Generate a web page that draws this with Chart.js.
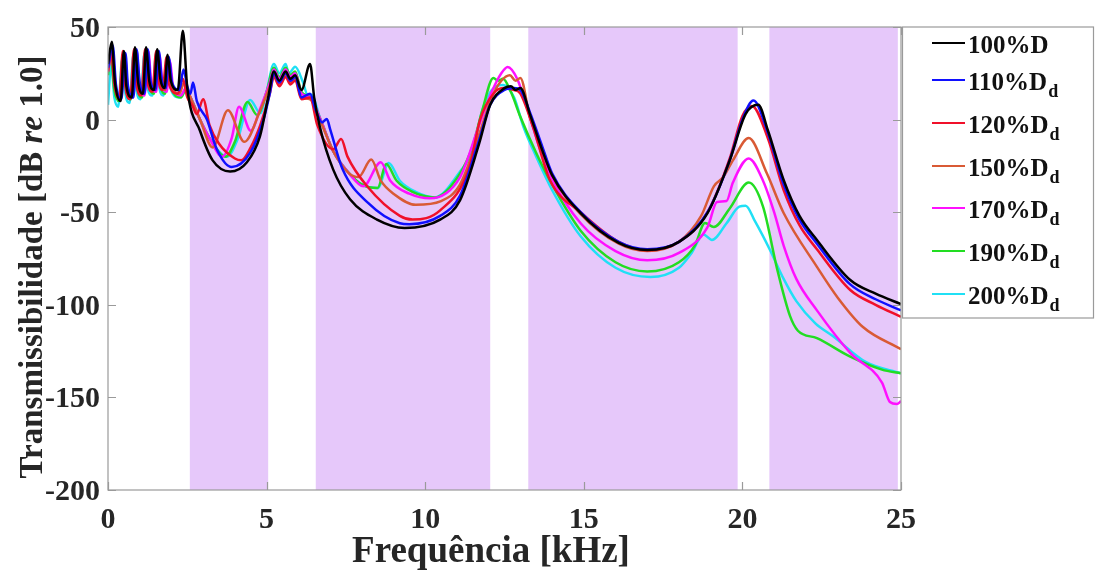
<!DOCTYPE html>
<html>
<head>
<meta charset="utf-8">
<script src="https://cdn.jsdelivr.net/npm/chart.js@4/dist/chart.umd.min.js"></script>
<style>
  html, body { margin: 0; padding: 0; background: #fff; }
  #wrap { width: 1095px; height: 570px; }
</style>
</head>
<body>
<div id="wrap"><canvas id="lineChart" width="1095" height="570"></canvas></div>
<script>
// frequencia em kHz, transmissibilidade em dB
const xTicks = [0, 5, 10, 15, 20, 25];
const yTicks = [-200, -150, -100, -50, 0, 50];
// faixas sombreadas (kHz)
const bands = [[2.58, 5.05], [6.55, 12.05], [13.25, 19.85], [20.85, 24.9]];

const labels = ['100%D', '110%D', '120%D', '150%D', '170%D', '190%D', '200%D'];
const subs = ['', 'd', 'd', 'd', 'd', 'd', 'd'];
const colors = ['#000000', '#1010ff', '#f0102a', '#d95a35', '#ff10ff', '#22dd22', '#20e0f5'];

const d100 = [[0,30],[0.12,42],[0.22,20],[0.4,10],[0.5,37],[0.58,18],[0.75,12],[0.85,39],[0.95,20],[1.1,14],[1.2,39],[1.3,21],[1.45,16],[1.55,38],[1.65,22],[1.78,17],[1.88,35],[1.98,21],[2.2,16],[2.36,48],[2.5,17],[2.9,-6],[3.3,-22],[3.85,-28],[4.38,-23],[4.79,-9],[5.05,12],[5.23,26],[5.4,21],[5.6,26],[5.75,22],[5.9,24],[6.1,16],[6.37,30],[6.5,12],[6.68,-4],[7.1,-27],[7.63,-43],[8.48,-54],[9.35,-58.5],[10.47,-54],[11.1,-43.5],[11.7,-13],[12.05,8],[12.5,17],[12.7,18],[12.85,16],[13.0,17],[13.3,3],[13.7,-17],[14.0,-30],[14.9,-50.5],[16.1,-66.6],[17.0,-70.4],[18.0,-66],[18.9,-50.5],[19.6,-22],[20.1,3],[20.5,8],[20.8,-5.6],[21.3,-32.6],[21.8,-52],[22.35,-65],[23.4,-86.6],[24.2,-94],[25,-99.6]];
const d110 = [[0,28],[0.15,40],[0.25,19],[0.42,11],[0.55,36],[0.63,18],[0.8,12],[0.9,38],[1.0,20],[1.15,14],[1.25,38],[1.35,20],[1.5,16],[1.6,37],[1.7,21],[1.82,17],[1.92,34],[2.02,20],[2.25,16],[2.38,27],[2.5,18],[2.6,14],[2.68,20],[2.8,10],[3.12,0],[3.43,-16],[3.9,-25.6],[4.48,-18],[4.9,0],[5.1,14],[5.23,25],[5.4,20],[5.6,25],[5.75,21],[5.9,23],[6.1,12],[6.37,14],[6.55,5],[6.75,-1.5],[6.9,0.3],[7.0,-5],[7.4,-27],[8.2,-45],[9.2,-56],[9.5,-56.5],[10.47,-52],[11.1,-41],[11.7,-11],[12.05,8],[12.5,16],[12.8,17],[13.0,16],[13.3,4],[13.7,-15],[14.0,-29],[14.9,-50],[16.1,-66],[17.0,-70],[18.0,-66],[18.9,-50],[19.6,-22],[20.0,0],[20.35,10.3],[20.8,-7],[21.3,-35],[21.8,-54],[22.35,-67],[23.4,-89],[24.2,-97],[25,-103]];
const d120 = [[0,26],[0.1,36],[0.2,19],[0.35,11],[0.47,37],[0.55,18],[0.7,11],[0.82,38],[0.9,19],[1.05,13],[1.17,38],[1.25,20],[1.4,15],[1.52,37],[1.6,21],[1.72,16],[1.85,34],[1.93,19],[2.2,14],[2.36,22],[2.5,12],[2.65,8],[2.8,3],[3.0,11],[3.2,-3],[3.5,-13],[4.0,-21],[4.2,-22],[4.5,-15],[4.8,-3],[5.1,14],[5.23,23],[5.4,18],[5.6,23],[5.75,19],[5.9,21],[6.1,11],[6.37,12],[6.6,-3],[7.1,-16],[7.35,-10.5],[7.55,-20],[8.17,-36],[9.2,-52],[9.6,-54],[10.47,-49],[11.4,-25.6],[11.73,0],[12.15,14],[12.46,17],[12.8,16],[13.0,14],[13.4,-4],[13.93,-32.6],[14.9,-50],[16.1,-66],[17.0,-70.5],[18.0,-66],[18.9,-50],[19.6,-21],[20.0,2],[20.3,7.4],[20.8,-10],[21.3,-38],[21.8,-57],[22.35,-70],[23.4,-92],[24.2,-100],[25,-106.5]];
const d150 = [[0,27],[0.12,38],[0.22,19],[0.38,12],[0.5,36],[0.6,18],[0.75,12],[0.87,38],[0.97,19],[1.12,14],[1.22,37],[1.32,20],[1.47,16],[1.58,36],[1.68,20],[1.8,16],[1.9,33],[2.0,19],[2.25,14],[2.4,20],[2.6,12],[2.9,0],[3.3,-15],[3.78,5],[4.3,-12],[4.8,5],[5.1,18],[5.23,24],[5.4,19],[5.6,24],[5.75,20],[5.9,22],[6.1,12],[6.37,11],[6.7,-1],[7.1,-17],[7.6,-29],[7.9,-31],[8.3,-21.6],[8.6,-33],[9.0,-40],[9.7,-46],[10.5,-44],[11.1,-35],[11.7,-8],[12.1,12],[12.4,21],[12.67,24],[12.85,21],[13.0,22.5],[13.3,1.5],[13.7,-16],[14.0,-30],[14.9,-51],[16.1,-67],[17.0,-71],[18.0,-66],[18.7,-52],[19.1,-36],[19.4,-31],[19.7,-22],[20.2,-10],[20.77,-29],[21.3,-50.4],[22.35,-79.5],[23.0,-96],[23.8,-112],[25,-124]];
const d170 = [[0,26],[0.13,37],[0.25,17],[0.4,11],[0.53,36],[0.62,17],[0.78,12],[0.9,37],[1.0,18],[1.15,13],[1.27,37],[1.37,19],[1.52,15],[1.62,35],[1.72,19],[1.85,15],[1.95,32],[2.05,18],[2.3,13],[2.45,17],[2.6,12],[2.9,0],[3.2,-10],[3.6,-20],[3.9,-10],[4.13,7],[4.5,-6],[4.8,6],[5.1,20],[5.23,27],[5.4,22],[5.6,27],[5.75,23],[5.9,25],[6.1,14],[6.37,12],[6.7,0],[7.1,-17],[7.6,-29],[8.05,-36],[8.6,-23],[8.9,-33],[9.5,-40],[10.15,-42.5],[11.1,-31],[11.7,-3],[12.1,15],[12.4,25],[12.6,28.4],[12.9,22],[13.24,5],[13.6,-15],[14.0,-32],[14.9,-56],[16.0,-71],[17.0,-76],[18.0,-72],[18.9,-58],[19.2,-44.5],[19.5,-44],[19.7,-34],[20.2,-21],[20.65,-33],[21.0,-50],[21.3,-68],[21.7,-86],[22.35,-103],[23.4,-126],[24.4,-142],[24.65,-152.5],[24.87,-153.6],[25,-152]];
const d190 = [[0,24],[0.08,36],[0.2,16],[0.35,10],[0.48,36],[0.57,16],[0.72,11],[0.85,37],[0.93,17],[1.08,12],[1.2,37],[1.3,18],[1.45,14],[1.57,36],[1.66,18],[1.8,14],[1.92,33],[2.0,17],[2.3,12],[2.45,16],[2.6,12],[2.9,0],[3.2,-10],[3.7,-20],[4.0,-12],[4.4,9.5],[4.7,2.5],[5.0,15],[5.23,28],[5.4,23],[5.6,28],[5.75,24],[5.9,26],[6.1,15],[6.37,12],[6.7,0],[7.1,-17],[7.6,-29],[8.0,-35],[8.5,-37],[8.77,-24],[9.1,-33],[9.6,-39],[10.3,-42],[11.1,-29],[11.5,-14],[11.8,5],[12.15,22.5],[12.3,21],[12.45,22],[12.7,15],[13.0,1.5],[13.5,-18],[14.0,-35],[14.9,-60],[16.0,-77],[17.0,-82],[18.0,-77],[18.5,-68],[18.82,-55.8],[19.1,-58],[19.6,-48],[20.2,-34],[20.65,-47],[21.1,-81],[21.5,-106],[21.75,-114],[22.35,-118],[23.4,-128],[24.4,-135],[25,-137]];
const d200 = [[0,8],[0.1,30],[0.2,12],[0.32,7],[0.45,33],[0.55,14],[0.68,9],[0.8,35],[0.9,16],[1.03,11],[1.15,36],[1.25,17],[1.4,13],[1.52,36],[1.62,17],[1.75,13],[1.88,33],[1.97,17],[2.25,12],[2.45,16],[2.6,12],[2.9,0],[3.2,-10],[3.75,-20],[4.1,-10],[4.48,10.6],[4.8,3.5],[5.0,15],[5.23,30],[5.4,25],[5.6,30],[5.7,25],[5.9,28.5],[6.15,20],[6.3,13],[6.4,13.5],[6.7,0],[7.1,-17],[7.6,-29],[8.0,-35],[8.5,-37],[8.85,-23.5],[9.2,-33],[9.7,-39],[10.3,-42],[11.1,-28],[11.5,-16.4],[11.8,5],[12.1,16],[12.46,18.7],[12.8,12],[13.1,-4],[13.5,-20],[14.0,-38],[14.9,-63],[16.0,-80],[17.1,-85],[18.0,-80],[18.4,-72],[18.77,-62],[19.04,-65],[19.5,-56],[19.9,-47],[20.1,-46.5],[20.4,-55],[20.87,-70.4],[21.3,-86],[21.7,-98],[22.3,-110],[22.86,-117],[23.9,-131],[25,-137]];

const series = [d100, d110, d120, d150, d170, d190, d200];

const FONT = "'Liberation Serif', 'Times New Roman', serif";
const INK = '#262626';

// faixas roxas atras das curvas
const bandPlugin = {
  id: 'bands',
  beforeDatasetsDraw(chart) {
    const { ctx, chartArea, scales } = chart;
    ctx.save();
    ctx.fillStyle = 'rgb(230, 200, 250)';
    bands.forEach(([a, b]) => {
      const x1 = scales.x.getPixelForValue(a);
      const x2 = scales.x.getPixelForValue(b);
      ctx.fillRect(x1, chartArea.top, x2 - x1, chartArea.bottom - chartArea.top);
    });
    ctx.restore();
  }
};

// moldura, ticks internos, rotulos, titulos e legenda com subscrito
const decoPlugin = {
  id: 'deco',
  afterDraw(chart) {
    const { ctx, chartArea: a, scales } = chart;
    ctx.save();
    ctx.strokeStyle = '#9a9a9a';
    ctx.lineWidth = 1.2;
    ctx.strokeRect(a.left, a.top, a.right - a.left, a.bottom - a.top);
    const tl = 8;
    ctx.beginPath();
    xTicks.forEach(v => {
      const x = Math.round(scales.x.getPixelForValue(v)) + 0.5;
      ctx.moveTo(x, a.bottom); ctx.lineTo(x, a.bottom - tl);
      ctx.moveTo(x, a.top); ctx.lineTo(x, a.top + tl);
    });
    yTicks.forEach(v => {
      const y = Math.round(scales.y.getPixelForValue(v)) + 0.5;
      ctx.moveTo(a.left, y); ctx.lineTo(a.left + tl, y);
      ctx.moveTo(a.right, y); ctx.lineTo(a.right - tl, y);
    });
    ctx.stroke();

    // rotulos dos ticks
    ctx.fillStyle = INK;
    ctx.font = 'bold 30px ' + FONT;
    ctx.textBaseline = 'alphabetic';
    ctx.textAlign = 'center';
    xTicks.forEach(v => ctx.fillText(String(v), scales.x.getPixelForValue(v), 528));
    ctx.textAlign = 'right';
    yTicks.forEach(v => ctx.fillText(String(v), 100, scales.y.getPixelForValue(v) + 10));

    // titulo eixo x
    ctx.font = 'bold 37px ' + FONT;
    ctx.textAlign = 'center';
    ctx.fillText('Frequência [kHz]', 491, 562);

    // titulo eixo y (re em italico)
    const parts = [['Transmissibilidade [dB ', 'bold 33px '], ['re', 'italic bold 33px '], [' 1.0]', 'bold 33px ']];
    let total = 0;
    parts.forEach(p => { ctx.font = p[1] + FONT; total += ctx.measureText(p[0]).width; });
    ctx.translate(42, 267);
    ctx.rotate(-Math.PI / 2);
    ctx.textAlign = 'left';
    let px = -total / 2;
    parts.forEach(p => {
      ctx.font = p[1] + FONT;
      ctx.fillText(p[0], px, 0);
      px += ctx.measureText(p[0]).width;
    });
    ctx.setTransform(1, 0, 0, 1, 0, 0);

    // legenda
    ctx.strokeStyle = '#9a9a9a';
    ctx.lineWidth = 1.2;
    ctx.strokeRect(902.5, 27, 191, 291);
    const rowY = [43, 80, 123, 166, 208, 251, 294];
    labels.forEach((t, i) => {
      const y = rowY[i];
      ctx.strokeStyle = colors[i];
      ctx.lineWidth = 2;
      ctx.beginPath();
      ctx.moveTo(932, y); ctx.lineTo(965, y);
      ctx.stroke();
      ctx.fillStyle = '#111';
      ctx.textAlign = 'left';
      ctx.font = 'bold 25px ' + FONT;
      ctx.fillText(t, 968, y + 10);
      const w = ctx.measureText(t).width;
      if (subs[i]) {
        ctx.font = 'bold 18px ' + FONT;
        ctx.fillText(subs[i], 968 + w + 1, y + 17);
      }
    });
    ctx.restore();
  }
};

const ctx = document.getElementById('lineChart').getContext('2d');
const myChart = new Chart(ctx, {
  type: 'line',
  data: {
    datasets: series.map((s, i) => ({
      label: labels[i] + subs[i],
      data: s.map(p => ({ x: p[0], y: p[1] })),
      borderColor: colors[i],
      backgroundColor: colors[i],
      borderWidth: 2.5,
      pointRadius: 0,
      cubicInterpolationMode: 'monotone',
      fill: false
    }))
  },
  options: {
    responsive: false,
    animation: false,
    layout: { padding: { top: 27, right: 194, left: 0, bottom: 0 } },
    plugins: { legend: { display: false }, tooltip: { enabled: false } },
    scales: {
      x: {
        type: 'linear', min: 0, max: 25,
        afterFit(scale) { scale.height = 80; },
        grid: { display: false },
        border: { display: false },
        ticks: { display: false }
      },
      y: {
        min: -200, max: 50,
        afterFit(scale) { scale.width = 108; },
        grid: { display: false },
        border: { display: false },
        ticks: { display: false }
      }
    }
  },
  plugins: [bandPlugin, decoPlugin]
});
</script>
</body>
</html>
